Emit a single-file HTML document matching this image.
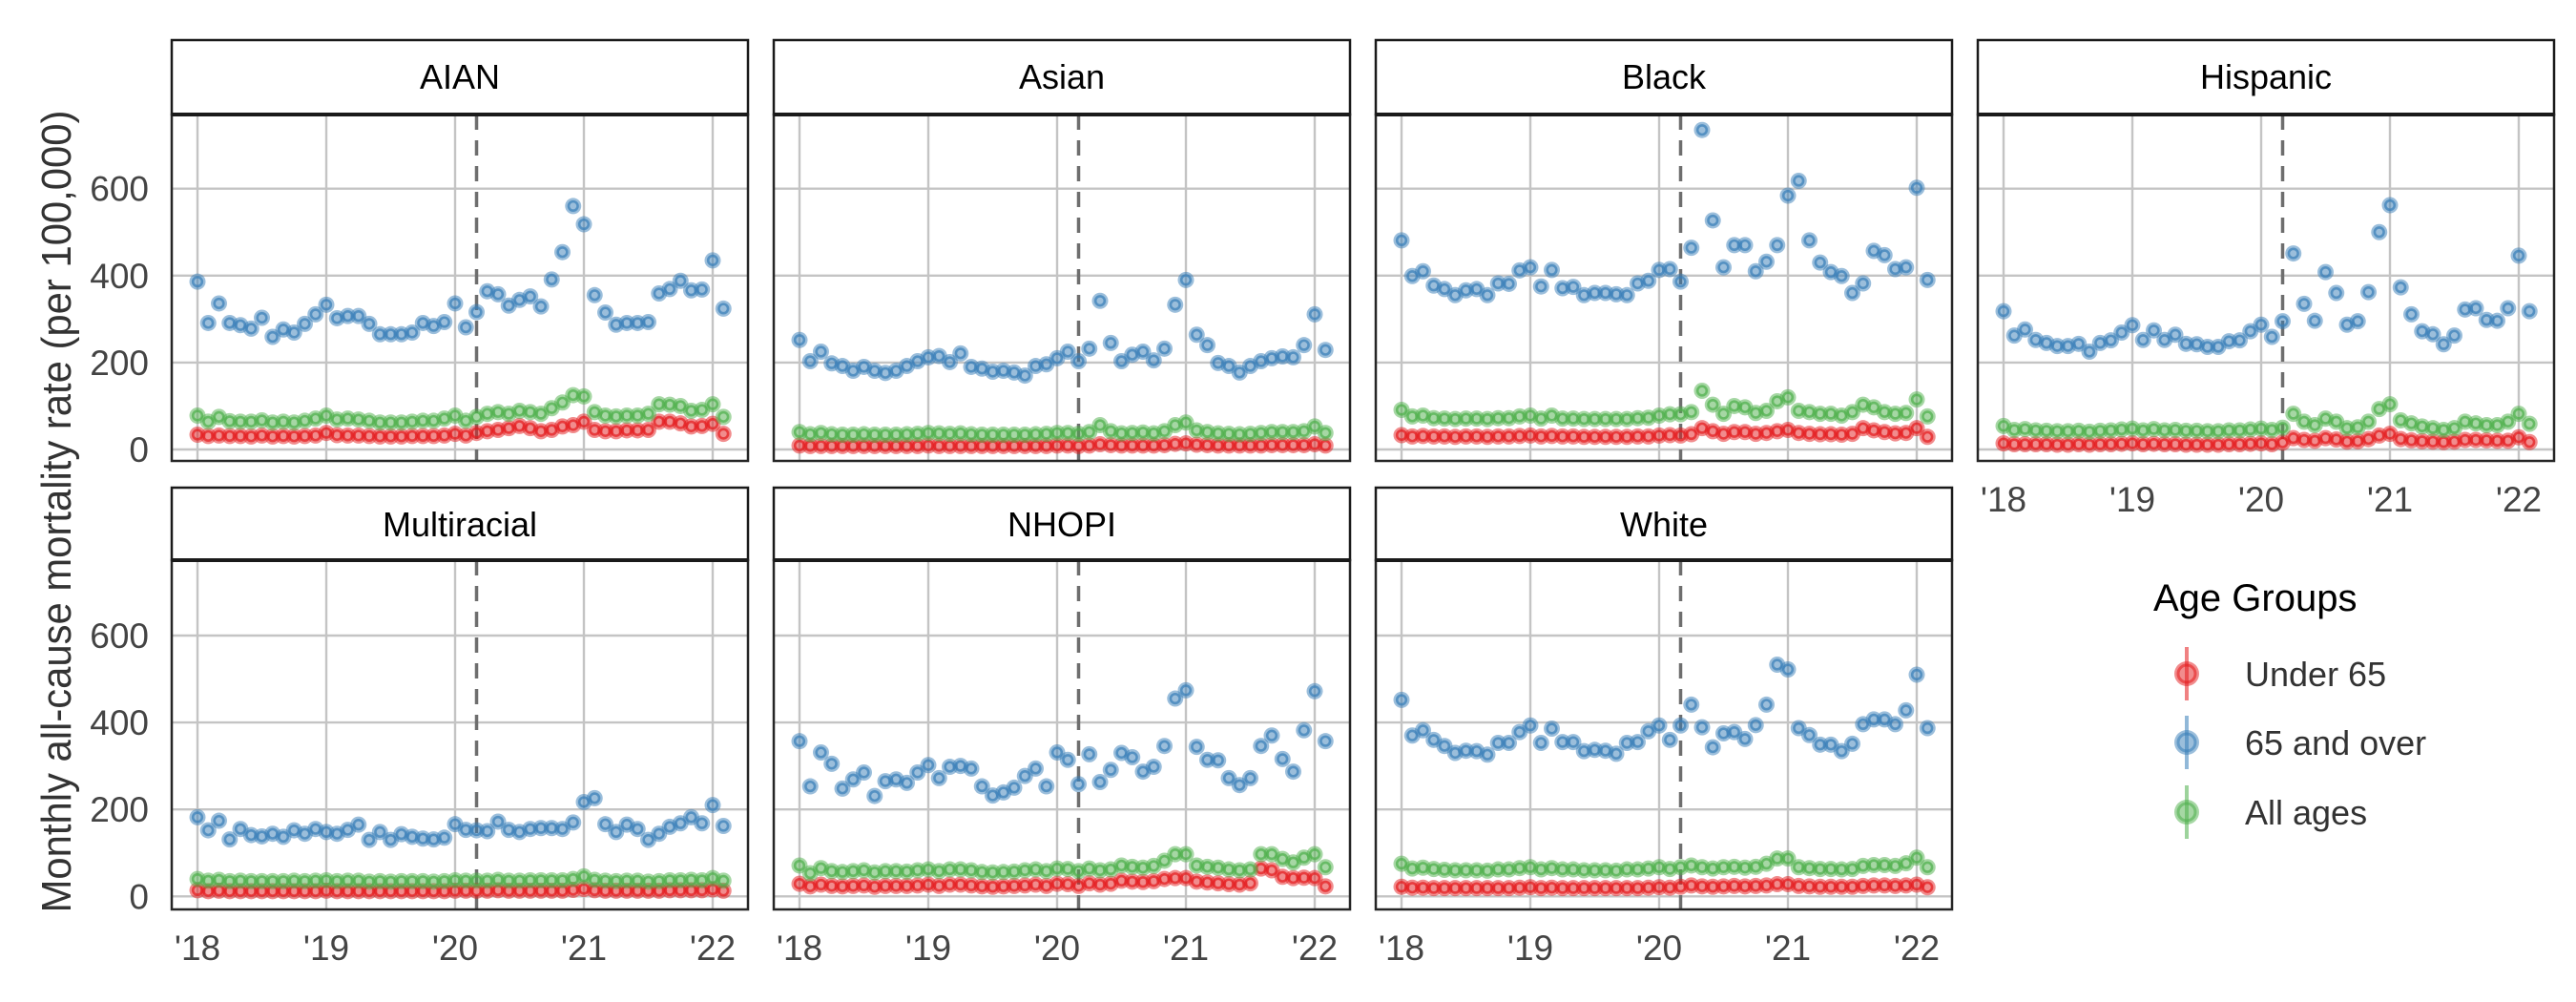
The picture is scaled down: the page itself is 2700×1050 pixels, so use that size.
<!DOCTYPE html>
<html><head><meta charset="utf-8"><style>
html,body{margin:0;padding:0;background:#fff}
svg{display:block}
text{font-family:"Liberation Sans",Arial,sans-serif}
</style></head><body>
<svg id="chart" width="2700" height="1050" viewBox="0 0 2700 1050" xmlns="http://www.w3.org/2000/svg">
<text x="0" y="0" transform="translate(74,536) rotate(-90) scale(0.95,1)" text-anchor="middle" font-size="44" fill="#333">Monthly all-cause mortality rate (per 100,000)</text>
<g>
<text x="2257" y="640" font-size="40" fill="#000">Age Groups</text>
</g>
</svg>
<script>
const groups = ["AIAN","Asian","Black","Hispanic","Multiracial","NHOPI","White"];
const seriesNames = ["65 and over","Under 65","All ages"];
const legendLabels = ["Under 65","65 and over","All ages"];
const yTicks = [0,200,400,600];
const xTickYears = [2018,2019,2020,2021,2022];
const xTickLabels = ["'18","'19","'20","'21","'22"];
const monthsStart = 2018;
const cutoffMonth = 26;

const aianOld = [386,291,336,291,286,278,303,259,276,269,289,311,333,302,307,307,289,265,265,265,269,291,284,293,336,281,316,364,357,331,344,352,329,391,454,560,518,355,315,287,291,291,293,359,369,388,366,368,435,324];
const aianAll = [78,64,75,65,64,64,67,62,64,62,66,71,78,69,71,69,66,62,62,62,64,66,66,71,78,66,75,82,86,82,89,86,82,95,108,125,122,86,78,76,78,78,82,104,103,100,89,91,104,75];
const aianYoung = [34,31,32,31,31,30,32,30,31,30,31,32,38,33,32,32,31,30,30,30,31,31,31,32,36,32,38,42,45,49,54,49,42,45,53,56,64,45,42,42,44,44,45,64,64,60,53,54,59,36];

const asianOld = [252,203,225,198,192,181,190,181,176,181,192,203,212,215,201,221,190,186,179,181,177,170,192,196,210,225,203,232,342,245,203,218,225,205,232,333,390,264,240,199,192,177,192,203,210,214,212,240,311,229];
const asianAll = [40,35,38,35,34,34,35,34,34,34,35,36,38,37,36,37,35,34,34,34,34,34,35,36,38,38,36,40,56,42,37,38,39,37,42,56,62,44,40,37,36,35,36,38,40,40,40,42,53,38];
const asianYoung = [9,8,8,8,8,8,8,8,8,8,8,8,9,8,8,8,8,8,8,8,8,8,8,8,9,9,8,9,12,10,9,9,9,9,10,13,14,11,10,9,9,9,9,9,10,10,10,10,12,9];

const blackOld = [481,399,410,377,369,355,366,369,355,382,381,412,419,375,413,371,374,355,360,360,357,355,382,388,413,415,386,464,735,527,419,470,470,410,432,470,584,618,481,430,408,399,360,382,457,447,415,419,602,390];
const blackAll = [91,76,78,72,71,70,71,71,70,72,72,76,78,71,78,71,71,70,70,70,70,70,72,73,78,81,81,86,135,103,82,100,97,84,89,111,120,89,86,82,82,78,86,103,97,86,82,84,115,76];
const blackYoung = [33,30,31,30,30,29,30,30,29,30,30,31,32,30,31,30,30,29,29,29,29,29,30,30,32,33,32,35,49,42,36,40,40,36,38,42,45,38,36,35,35,34,36,49,44,40,37,38,49,29];

const hispOld = [318,262,276,252,245,238,238,243,225,245,251,269,286,252,274,252,264,243,242,236,236,249,251,272,287,259,295,451,335,296,408,360,287,295,362,500,562,373,311,272,265,242,262,322,325,298,296,325,446,318];
const hispAll = [54,45,47,44,43,42,42,43,41,43,44,46,48,44,47,44,45,43,43,42,42,44,44,46,48,45,50,82,64,56,71,64,49,51,64,93,104,67,60,53,49,45,49,64,60,56,56,64,82,59];
const hispYoung = [14,12,12,12,12,11,11,12,11,12,12,13,14,12,13,12,12,11,11,11,11,12,12,13,14,12,16,26,22,20,26,23,18,19,24,32,36,24,21,19,18,17,18,22,22,21,20,20,28,17];

const multiOld = [182,152,174,131,155,141,138,144,137,152,144,155,148,144,153,165,130,148,130,143,137,133,131,135,166,153,152,150,172,153,148,155,157,157,155,170,217,226,166,148,165,155,130,144,160,168,182,168,210,162];
const multiAll = [40,36,38,35,36,35,35,35,35,36,35,36,37,35,36,36,34,35,34,35,35,35,34,35,37,36,36,36,38,36,36,37,37,37,37,40,46,38,36,35,36,36,34,35,37,37,38,37,42,36];
const multiYoung = [14,12,13,12,12,12,12,12,12,12,12,12,13,12,12,12,12,12,12,12,12,12,12,12,13,13,13,13,14,13,13,13,13,13,13,15,17,14,13,13,13,13,13,13,14,14,14,14,16,13];

const nhopiOld = [357,253,331,305,248,269,285,231,265,269,261,285,302,272,298,300,294,253,232,239,250,277,294,253,331,314,258,327,263,291,330,320,287,298,346,455,474,344,314,313,272,256,272,346,370,316,287,382,472,357];
const nhopiAll = [71,53,65,58,56,58,60,55,58,58,57,60,62,58,62,62,60,56,55,56,57,60,62,58,64,63,58,64,60,62,71,68,66,70,82,97,97,71,68,66,62,60,62,97,97,86,78,89,97,67];
const nhopiYoung = [29,23,27,24,23,24,25,22,24,24,24,25,27,24,27,27,25,23,22,23,24,25,27,24,29,28,24,30,27,29,36,34,33,35,40,42,42,34,32,30,28,27,30,64,60,45,42,43,42,23];

const whiteOld = [452,370,382,360,346,330,335,334,326,353,353,378,393,353,386,355,355,334,337,335,328,353,355,380,393,360,393,441,389,343,375,378,362,394,441,533,522,387,371,349,349,334,351,396,407,407,396,428,510,387];
const whiteAll = [75,64,66,63,61,60,60,60,59,62,62,65,67,62,65,62,62,60,60,60,59,62,62,64,67,63,67,71,67,64,67,68,66,68,75,87,87,67,65,63,63,62,63,70,72,72,70,76,89,67];
const whiteYoung = [22,20,20,19,19,19,19,19,19,19,19,20,21,19,20,19,19,19,19,19,19,19,19,20,21,20,22,25,23,22,23,24,23,24,25,28,28,24,23,22,22,22,22,24,25,25,24,25,27,21];

const panelData = [
  [aianOld,aianYoung,aianAll],[asianOld,asianYoung,asianAll],[blackOld,blackYoung,blackAll],[hispOld,hispYoung,hispAll],
  [multiOld,multiYoung,multiAll],[nhopiOld,nhopiYoung,nhopiAll],[whiteOld,whiteYoung,whiteAll]
];

const NS = "http://www.w3.org/2000/svg";
const svg = document.getElementById("chart");
const colors = ["#377EB8","#E41A1C","#4DAF4A"];
const panelLefts = [180,811,1442,2073];
const panelW = 604;
const rows = [{top:120,bottom:483,zero:471,hdrTop:42},{top:587,bottom:953,zero:939.3,hdrTop:511}];
const pxPerUnit = (471-197.7)/600;
const monthW = 135/12;

function mk(tag, attrs, parent){
  const e = document.createElementNS(NS, tag);
  for (const k in attrs) e.setAttribute(k, attrs[k]);
  (parent||svg).appendChild(e);
  return e;
}

groups.forEach((g, gi) => {
  const row = rows[Math.floor(gi/4)];
  const L = panelLefts[gi%4];
  const xScale = m => L + 27 + m*monthW;
  const yScale = v => row.zero - v*pxPerUnit;
  const pg = mk("g", {});
  
  
  const strip = mk("rect", {x:L, y:row.hdrTop, width:panelW, height:row.top-row.hdrTop, fill:"#fff", stroke:"#1a1a1a", "stroke-width":2.5}, pg);
  
  
  const st = mk("text", {x:L+panelW/2, y:row.hdrTop+51, "text-anchor":"middle", "font-size":36, fill:"#000"}, pg);
  st.textContent = g;
  
  
  yTicks.forEach(t => {
    const gl = mk("line", {x1:L, x2:L+panelW, y1:yScale(t), y2:yScale(t), stroke:"#c4c4c4", "stroke-width":2.4}, pg);
    
    
  });
  xTickYears.forEach((yr, i) => {
    const x = xScale((yr-monthsStart)*12);
    const gl = mk("line", {x1:x, x2:x, y1:row.top, y2:row.bottom, stroke:"#c4c4c4", "stroke-width":2.4}, pg);
    
    
  });
  const cx = xScale(cutoffMonth);
  const dl = mk("line", {x1:cx, x2:cx, y1:row.top, y2:row.bottom, stroke:"#6e6e6e", "stroke-width":3.5, "stroke-dasharray":"16 11"}, pg);
  
  
  panelData[gi].forEach((series, si) => {
    const sg = mk("g", {}, pg);
    
    
    series.forEach((v, m) => {
      const px = xScale(m), py = yScale(v);
      const c1 = mk("circle", {cx:px, cy:py, r:8.5, fill:colors[si], "fill-opacity":0.5}, sg);
      
      
      mk("circle", {cx:px, cy:py, r:4.8, fill:"none", stroke:colors[si], "stroke-width":2.6, "stroke-opacity":0.7}, sg);
    });
  });
  const br = mk("rect", {x:L, y:row.top, width:panelW, height:row.bottom-row.top, fill:"none", stroke:"#262626", "stroke-width":2.5}, pg);
  
  
  const sb = mk("line", {x1:L, x2:L+panelW, y1:row.top, y2:row.top, stroke:"#1a1a1a", "stroke-width":4}, pg);
  
  
  if (gi%4 === 0) {
    yTicks.forEach(t => {
      const tl = mk("text", {x:156, y:yScale(t)+13, "text-anchor":"end", "font-size":37, fill:"#444"});
      tl.textContent = t;
      
      
    });
  }
  if (gi >= 3) {
    xTickYears.forEach((yr, i) => {
      const tl = mk("text", {x:xScale((yr-monthsStart)*12), y:row.bottom+53, "text-anchor":"middle", "font-size":37, fill:"#444"});
      tl.textContent = xTickLabels[i];
      
      
    });
  }
});

const legendColors = ["#E41A1C","#377EB8","#4DAF4A"];
const legendY = [706,778,851];
legendLabels.forEach((lab, i) => {
  const lg = mk("g", {});
  
  
  mk("line", {x1:2292, x2:2292, y1:legendY[i]-28, y2:legendY[i]+28, stroke:legendColors[i], "stroke-width":4, "stroke-opacity":0.55}, lg);
  mk("circle", {cx:2292, cy:legendY[i], r:13, fill:legendColors[i], "fill-opacity":0.5}, lg);
  mk("circle", {cx:2292, cy:legendY[i], r:9, fill:"none", stroke:legendColors[i], "stroke-width":3, "stroke-opacity":0.55}, lg);
  const t = mk("text", {x:2353, y:legendY[i]+13, "font-size":36, fill:"#333"}, lg);
  t.textContent = lab;
});
</script>
</body></html>
